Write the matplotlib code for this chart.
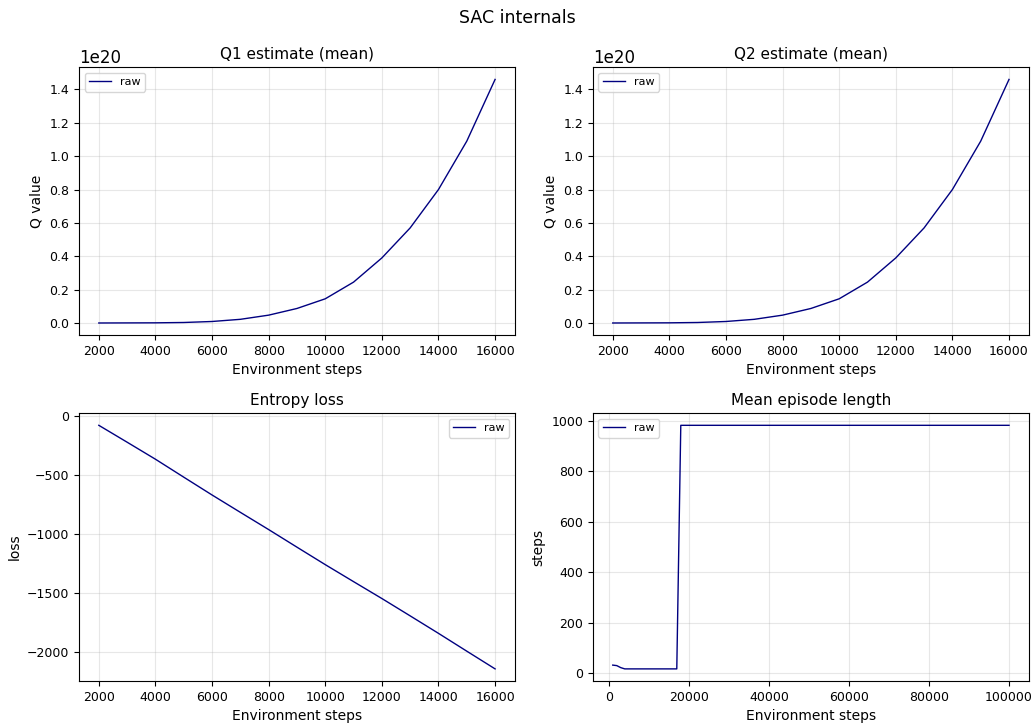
import matplotlib
matplotlib.use("Agg")
import matplotlib.pyplot as plt
import numpy as np

steps = [2000, 3000, 4000, 5000, 6000, 7000, 8000, 9000, 10000, 11000, 12000, 13000, 14000, 15000, 16000]
q1_mean = [0.0, 0.0005, 0.001, 0.003, 0.009, 0.022, 0.047, 0.087, 0.145, 0.245, 0.39, 0.57, 0.80, 1.09, 1.46]
q2_mean = [0.0, 0.0005, 0.001, 0.003, 0.009, 0.022, 0.047, 0.087, 0.145, 0.245, 0.39, 0.57, 0.80, 1.09, 1.46]
entropy_loss = [-81, -224, -368, -520, -671, -818, -964, -1113, -1261, -1405, -1548, -1695, -1843, -1994, -2144]
ep_steps = [1000, 2000, 3000, 4000, 17000, 18000, 100000]
ep_length = [32, 30, 22, 17, 17, 982, 982]

color = "navy"
plt.rcParams["xtick.labelsize"] = 9
plt.rcParams["ytick.labelsize"] = 9
plt.rcParams["axes.titlesize"] = 11
plt.rcParams["axes.labelsize"] = 10

fig, axes = plt.subplots(2, 2, figsize=(10.34, 7.23), dpi=100)
fig.subplots_adjust(left=0.0764, right=0.995, top=0.907, bottom=0.058, wspace=0.179, hspace=0.291)
fig.suptitle("SAC internals", fontsize=12.5, y=0.975, va="center")

ax = axes[0, 0]
ax.plot(steps, np.array(q1_mean) * 1e20, color=color, lw=1, label="raw")
ax.set_title("Q1 estimate (mean)")
ax.set_xlabel("Environment steps")
ax.set_ylabel("Q value")

ax = axes[0, 1]
ax.plot(steps, np.array(q2_mean) * 1e20, color=color, lw=1, label="raw")
ax.set_title("Q2 estimate (mean)")
ax.set_xlabel("Environment steps")
ax.set_ylabel("Q value")

ax = axes[1, 0]
ax.plot(steps, entropy_loss, color=color, lw=1, label="raw")
ax.set_title("Entropy loss")
ax.set_xlabel("Environment steps")
ax.set_ylabel("loss")

ax = axes[1, 1]
ax.plot(ep_steps, ep_length, color=color, lw=1, label="raw")
ax.set_title("Mean episode length")
ax.set_xlabel("Environment steps")
ax.set_ylabel("steps")

for a in axes.flat:
    a.grid(True, alpha=0.3)
    a.legend(fontsize=8)
    a.yaxis.get_offset_text().set_fontsize(12)

fig.savefig("out.png", dpi=100)
